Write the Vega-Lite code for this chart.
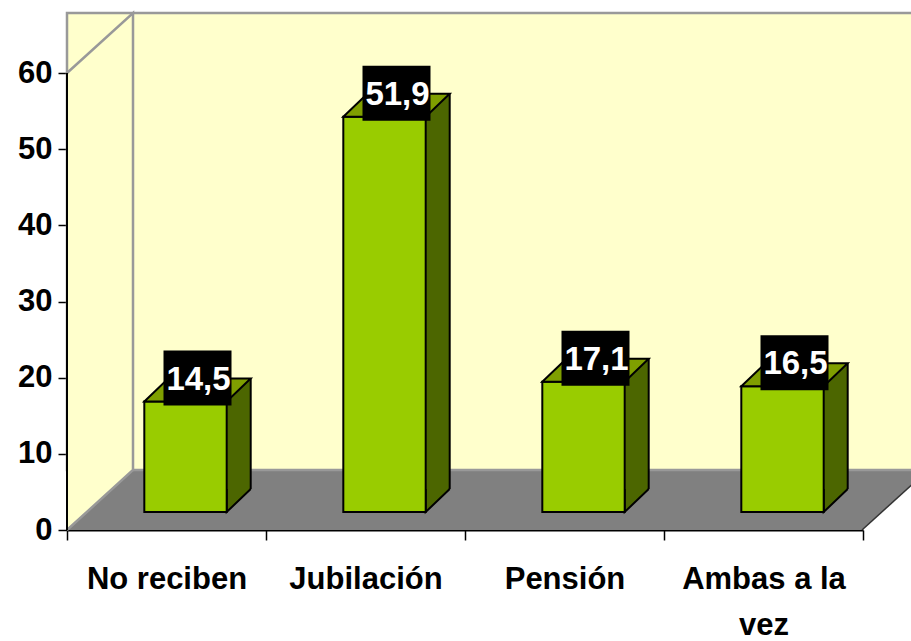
{
  "$schema": "https://vega.github.io/schema/vega-lite/v6.json",
  "width": 796,
  "height": 457,
  "autosize": {"type": "none"},
  "padding": {"left": 67, "top": 73, "right": 48, "bottom": 111},
  "background": "white",
  "config": {
    "view": {"stroke": null},
    "locale": {"number": {"decimal": ",", "thousands": ".", "grouping": [3], "currency": ["", " €"]}},
    "axis": {"labelFont": "Liberation Sans", "labelFontWeight": "bold", "labelFontSize": 31, "labelColor": "#000000", "domain": true, "domainColor": "#000000", "tickColor": "#000000", "grid": false, "zindex": 2}
  },
  "data": {"values": [
    {"categoria": "No reciben", "valor": 14.5},
    {"categoria": "Jubilación", "valor": 51.9},
    {"categoria": "Pensión", "valor": 17.1},
    {"categoria": "Ambas a la vez", "valor": 16.5}
  ]},
  "layer": [
    {
      "data": {"values": [{}]},
      "mark": {"type": "point", "shape": "M-0.995,0L6.955,0L7.615,-0.6L-0.335,-0.6Z", "size": 40000, "filled": true, "fill": "#808080", "strokeWidth": 0, "opacity": 1},
      "encoding": {
        "x": {"datum": "No reciben", "type": "nominal", "title": null},
        "y": {"datum": 0, "type": "quantitative", "title": null}
      }
    },
    {
      "data": {"values": [{}]},
      "mark": {"type": "rect", "fill": "#FFFFCC", "stroke": "#999999", "strokeWidth": 2.5, "xOffset": 66, "x2Offset": 66, "yOffset": -60, "y2Offset": -60},
      "encoding": {
        "y": {"datum": 0, "type": "quantitative", "title": null},
        "y2": {"datum": 60}
      }
    },
    {
      "data": {"values": [{}]},
      "mark": {"type": "point", "shape": "M-0.995,0L-0.335,-0.6L-0.335,-5.17L-0.995,-4.57", "size": 40000, "filled": true, "fill": "#FFFFCC", "stroke": "#999999", "strokeWidth": 2.5, "opacity": 1},
      "encoding": {
        "x": {"datum": "No reciben", "type": "nominal", "title": null},
        "y": {"datum": 0, "type": "quantitative", "title": null}
      }
    },
    {
      "data": {"values": [{}]},
      "mark": {"type": "point", "shape": "M-0.995,0L-0.995,-4.57", "size": 40000, "filled": false, "stroke": "#000000", "strokeWidth": 2, "opacity": 1},
      "encoding": {
        "x": {"datum": "No reciben", "type": "nominal", "title": null},
        "y": {"datum": 0, "type": "quantitative", "title": null}
      }
    },
    {
      "data": {"values": [{}]},
      "mark": {"type": "point", "shape": "M6.955,0L7.615,-0.6", "size": 40000, "filled": false, "stroke": "#333333", "strokeWidth": 1.5, "opacity": 1},
      "encoding": {
        "x": {"datum": "No reciben", "type": "nominal", "title": null},
        "y": {"datum": 0, "type": "quantitative", "title": null}
      }
    },
    {
      "mark": {"type": "bar", "fill": "#4C6600", "width": {"band": 0.414}, "xOffset": 43, "yOffset": -41, "y2Offset": -41},
      "encoding": {
        "x": {
          "field": "categoria", "type": "nominal", "title": null,
          "scale": {"type": "band", "domain": ["No reciben", "Jubilación", "Pensión", "Ambas a la vez"], "paddingInner": 0, "paddingOuter": 0},
          "axis": {
            "labelExpr": "datum.label == 'Ambas a la vez' ? ['Ambas a la', 'vez'] : datum.label",
            "labelAngle": 0, "labelAlign": "center", "tickBand": "extent", "tickSize": 10, "tickWidth": 1.5,
            "domain": true, "domainWidth": 2, "labelBaseline": "alphabetic", "labelPadding": 48, "labelLineHeight": 46
          }
        },
        "y": {
          "field": "valor", "type": "quantitative", "title": null,
          "scale": {"domain": [0, 60], "nice": false},
          "axis": {"values": [0, 10, 20, 30, 40, 50, 60], "tickSize": 9, "tickWidth": 1.5, "labelPadding": 6, "domain": true, "domainWidth": 2, "domainColor": "#000000"}
        },
        "y2": {"datum": 0}
      }
    },
    {
      "mark": {"type": "point", "shape": "M0.842,-0.41L0.602,-0.18L0.602,-0.41", "size": 40000, "filled": true, "fill": "#4C6600", "stroke": "#000000", "strokeWidth": 2, "opacity": 1},
      "encoding": {
        "x": {"field": "categoria", "type": "nominal", "title": null},
        "y": {"datum": 0, "type": "quantitative", "title": null}
      }
    },
    {
      "mark": {"type": "rule", "stroke": "#000000", "strokeWidth": 2, "xOffset": 84.2, "yOffset": -41, "y2Offset": -41},
      "encoding": {
        "x": {"field": "categoria", "type": "nominal", "title": null},
        "y": {"field": "valor", "type": "quantitative", "title": null},
        "y2": {"datum": 0}
      }
    },
    {
      "mark": {"type": "bar", "fill": "#99CC00", "stroke": "#000000", "strokeWidth": 2, "width": {"band": 0.414}, "xOffset": 19, "yOffset": -18, "y2Offset": -18},
      "encoding": {
        "x": {"field": "categoria", "type": "nominal", "title": null},
        "y": {"field": "valor", "type": "quantitative", "title": null},
        "y2": {"datum": 0}
      }
    },
    {
      "mark": {"type": "point", "shape": "M-0.222,-0.18L0.602,-0.18L0.842,-0.41L0.018,-0.41Z", "size": 40000, "filled": true, "fill": "#7F9F00", "stroke": "#000000", "strokeWidth": 2, "opacity": 1},
      "encoding": {
        "x": {"field": "categoria", "type": "nominal", "title": null},
        "y": {"field": "valor", "type": "quantitative", "title": null}
      }
    },
    {
      "mark": {"type": "point", "shape": "M-0.03,-0.69L0.65,-0.69L0.65,-0.14L-0.03,-0.14Z", "size": 40000, "filled": true, "fill": "#000000", "strokeWidth": 0, "opacity": 1},
      "encoding": {
        "x": {"field": "categoria", "type": "nominal", "title": null},
        "y": {"field": "valor", "type": "quantitative", "title": null}
      }
    },
    {
      "mark": {"type": "text", "dx": 32, "dy": -30, "align": "center", "baseline": "alphabetic", "font": "Liberation Sans", "fontWeight": "bold", "fontSize": 33, "fill": "#FFFFFF"},
      "encoding": {
        "x": {"field": "categoria", "type": "nominal", "title": null},
        "y": {"field": "valor", "type": "quantitative", "title": null},
        "text": {"field": "valor", "type": "quantitative", "format": ".1f"}
      }
    }
  ]
}
